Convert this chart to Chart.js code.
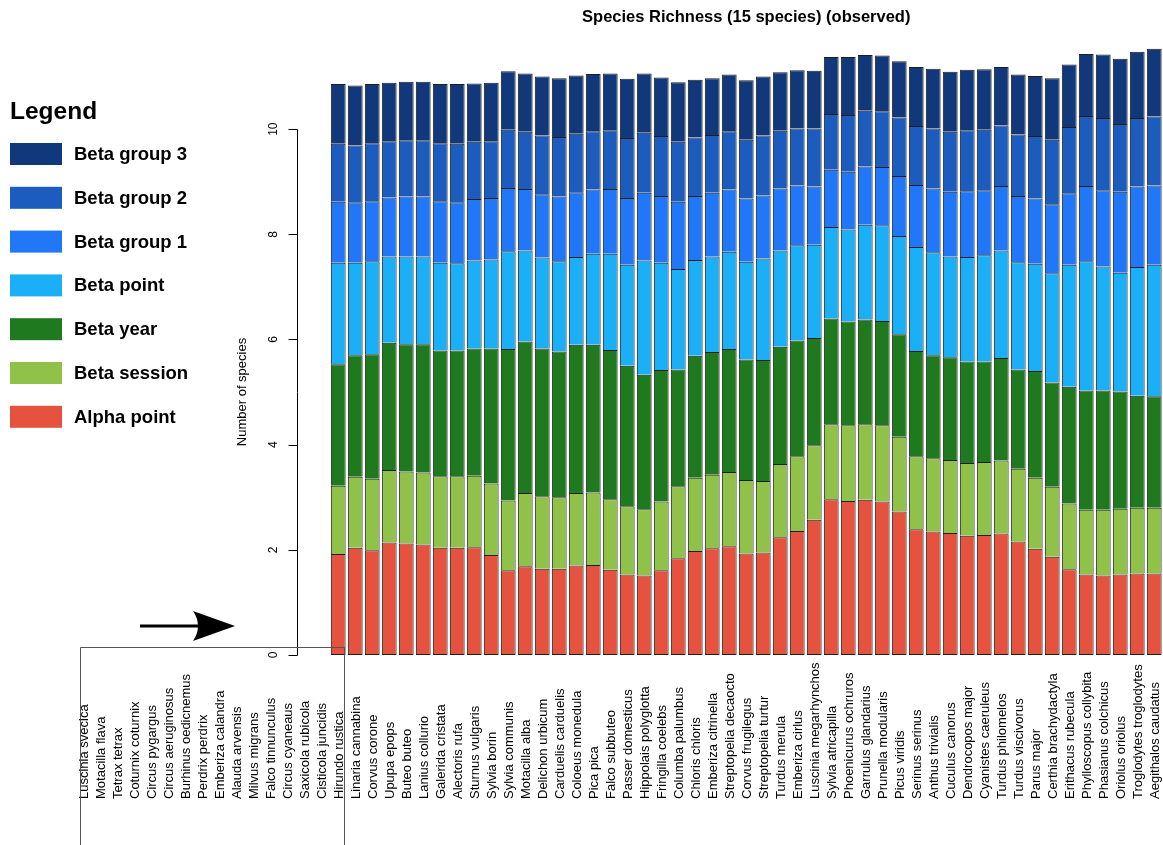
<!DOCTYPE html>
<html>
<head>
<meta charset="utf-8">
<script src="https://cdn.jsdelivr.net/npm/chart.js@4.4.1/dist/chart.umd.min.js"></script>
<style>
  html, body { margin: 0; padding: 0; background: #ffffff; }
  #wrap { width: 1163px; height: 845px; position: relative; }
</style>
</head>
<body>
<div id="wrap"><canvas id="c" width="1163" height="845"></canvas></div>
<script>
// ---------------- DATA ----------------
const chartTitle = 'Species Richness (15 species) (observed)';
const yAxisTitle = 'Number of species';
const legendTitle = 'Legend';
const yTickValues = [0, 2, 4, 6, 8, 10];

const speciesWithoutBars = [
  'Luscinia svecica', 'Motacilla flava', 'Tetrax tetrax', 'Coturnix coturnix',
  'Circus pygargus', 'Circus aeruginosus', 'Burhinus oedicnemus', 'Perdrix perdrix',
  'Emberiza calandra', 'Alauda arvensis', 'Milvus migrans', 'Falco tinnunculus',
  'Circus cyaneaus', 'Saxicola rubicola', 'Cisticola juncidis'
];

const speciesWithBars = [
  'Hirundo rustica', 'Linaria cannabina', 'Corvus corone', 'Upupa epops', 'Buteo buteo',
  'Lanius collurio', 'Galerida cristata', 'Alectoris rufa', 'Sturnus vulgaris', 'Sylvia borin',
  'Sylvia communis', 'Motacilla alba', 'Delichon urbicum', 'Carduelis carduelis', 'Coloeus monedula',
  'Pica pica', 'Falco subbuteo', 'Passer domesticus', 'Hippolais polyglotta', 'Fringilla coelebs',
  'Columba palumbus', 'Chloris chloris', 'Emberiza citrinella', 'Streptopelia decaocto', 'Corvus frugilegus',
  'Streptopelia turtur', 'Turdus merula', 'Emberiza cirlus', 'Luscinia megarhynchos', 'Sylvia atricapilla',
  'Phoenicurus ochruros', 'Garrulus glandarius', 'Prunella modularis', 'Picus viridis', 'Serinus serinus',
  'Anthus trivialis', 'Cuculus canorus', 'Dendrocopos major', 'Cyanistes caeruleus', 'Turdus philomelos',
  'Turdus viscivorus', 'Parus major', 'Certhia brachydactyla', 'Erithacus rubecula', 'Phylloscopus collybita',
  'Phasianus colchicus', 'Oriolus oriolus', 'Troglodytes troglodytes', 'Aegithalos caudatus'
];

const alphaPoint = [
  1.92, 2.04, 1.99, 2.14, 2.12, 2.10, 2.04, 2.04, 2.05, 1.90,
  1.61, 1.69, 1.64, 1.64, 1.70, 1.71, 1.62, 1.53, 1.51, 1.61,
  1.84, 1.98, 2.03, 2.07, 1.93, 1.95, 2.24, 2.36, 2.57, 2.96,
  2.93, 2.95, 2.92, 2.73, 2.39, 2.35, 2.32, 2.27, 2.28, 2.31,
  2.16, 2.02, 1.87, 1.63, 1.53, 1.51, 1.53, 1.55, 1.55
];
const betaSession = [
  1.30, 1.35, 1.36, 1.38, 1.37, 1.37, 1.36, 1.36, 1.36, 1.36,
  1.33, 1.39, 1.38, 1.36, 1.38, 1.38, 1.34, 1.30, 1.26, 1.31,
  1.37, 1.39, 1.40, 1.41, 1.40, 1.36, 1.39, 1.42, 1.42, 1.43,
  1.44, 1.44, 1.45, 1.42, 1.39, 1.39, 1.39, 1.38, 1.39, 1.39,
  1.38, 1.35, 1.33, 1.25, 1.23, 1.25, 1.25, 1.25, 1.25
];
const betaYear = [
  2.31, 2.31, 2.37, 2.42, 2.42, 2.44, 2.39, 2.39, 2.42, 2.57,
  2.88, 2.88, 2.81, 2.77, 2.82, 2.81, 2.84, 2.67, 2.56, 2.50,
  2.22, 2.32, 2.33, 2.34, 2.29, 2.30, 2.23, 2.20, 2.04, 2.01,
  1.97, 1.99, 1.98, 1.95, 2.00, 1.96, 1.95, 1.93, 1.91, 1.95,
  1.89, 2.03, 1.98, 2.22, 2.27, 2.27, 2.23, 2.13, 2.12
];
const betaPoint = [
  1.93, 1.76, 1.77, 1.64, 1.67, 1.67, 1.67, 1.66, 1.67, 1.69,
  1.86, 1.73, 1.73, 1.72, 1.67, 1.73, 1.83, 1.92, 2.17, 2.04,
  1.91, 1.82, 1.82, 1.85, 1.86, 1.93, 1.83, 1.81, 1.77, 1.74,
  1.75, 1.80, 1.82, 1.87, 1.98, 1.96, 1.92, 1.99, 2.02, 2.04,
  2.04, 2.04, 2.08, 2.32, 2.46, 2.36, 2.26, 2.45, 2.50
];
const betaGroup1 = [
  1.16, 1.15, 1.14, 1.12, 1.14, 1.14, 1.17, 1.16, 1.17, 1.17,
  1.20, 1.17, 1.20, 1.23, 1.23, 1.22, 1.23, 1.27, 1.29, 1.27,
  1.28, 1.22, 1.21, 1.18, 1.20, 1.20, 1.18, 1.14, 1.11, 1.09,
  1.10, 1.11, 1.11, 1.14, 1.18, 1.21, 1.23, 1.25, 1.24, 1.23,
  1.26, 1.24, 1.31, 1.36, 1.43, 1.45, 1.54, 1.53, 1.51
];
const betaGroup2 = [
  1.10, 1.08, 1.10, 1.07, 1.07, 1.07, 1.10, 1.11, 1.09, 1.08,
  1.11, 1.09, 1.12, 1.13, 1.11, 1.11, 1.12, 1.14, 1.14, 1.14,
  1.14, 1.11, 1.10, 1.11, 1.12, 1.14, 1.10, 1.08, 1.10, 1.06,
  1.08, 1.06, 1.06, 1.11, 1.12, 1.14, 1.14, 1.16, 1.15, 1.15,
  1.17, 1.19, 1.23, 1.26, 1.33, 1.37, 1.29, 1.30, 1.31
];
const betaGroup3 = [
  1.14, 1.14, 1.13, 1.11, 1.11, 1.11, 1.13, 1.14, 1.11, 1.11,
  1.11, 1.11, 1.12, 1.12, 1.11, 1.09, 1.08, 1.13, 1.13, 1.11,
  1.13, 1.10, 1.08, 1.08, 1.13, 1.12, 1.11, 1.11, 1.10, 1.08,
  1.10, 1.06, 1.06, 1.07, 1.12, 1.14, 1.14, 1.15, 1.15, 1.11,
  1.14, 1.14, 1.17, 1.19, 1.18, 1.21, 1.24, 1.26, 1.29
];

const seriesNames = ['Alpha point', 'Beta session', 'Beta year', 'Beta point',
                     'Beta group 1', 'Beta group 2', 'Beta group 3'];
const seriesValues = [alphaPoint, betaSession, betaYear, betaPoint,
                      betaGroup1, betaGroup2, betaGroup3];

// ---------------- STYLE ----------------
const seriesColors = ['#e5533f', '#90c24a', '#1f7a1f', '#1aaff6',
                      '#2078f8', '#1c5cbf', '#11387a'];
const FONT = '"Liberation Sans", Arial, Helvetica, sans-serif';

// ---------------- BUILD ----------------
const allCategories = speciesWithoutBars.concat(speciesWithBars);
const emptyLead = speciesWithoutBars.map(() => null);

const datasets = seriesNames.map((name, i) => ({
  label: name,
  data: emptyLead.concat(seriesValues[i]),
  backgroundColor: seriesColors[i],
  borderColor: '#1e1e1e',
  borderWidth: 1,
  borderSkipped: i === 0 ? false : 'start',
  barPercentage: 0.87,
  categoryPercentage: 1.0
}));

const decor = {
  id: 'decor',
  afterDraw(chart) {
    const ctx = chart.ctx;
    const xs = chart.scales.x;
    const ys = chart.scales.y;
    ctx.save();
    ctx.fillStyle = '#000';

    // Title, centred over the bars
    const first = xs.getPixelForValue(speciesWithoutBars.length);
    const last = xs.getPixelForValue(allCategories.length - 1);
    ctx.font = 'bold 16.5px ' + FONT;
    ctx.textAlign = 'center';
    ctx.textBaseline = 'alphabetic';
    ctx.fillText(chartTitle, (first + last) / 2, 22);

    // Y axis (R style): line from first to last tick, outward ticks, rotated labels
    const axX = 297.5;
    ctx.strokeStyle = '#000';
    ctx.lineWidth = 1;
    ctx.beginPath();
    ctx.moveTo(axX, Math.round(ys.getPixelForValue(yTickValues[0])) + 0.5);
    ctx.lineTo(axX, Math.round(ys.getPixelForValue(yTickValues[yTickValues.length - 1])) + 0.5);
    yTickValues.forEach(t => {
      const py = Math.round(ys.getPixelForValue(t)) + 0.5;
      ctx.moveTo(axX - 9, py);
      ctx.lineTo(axX, py);
    });
    ctx.stroke();
    ctx.font = '12px ' + FONT;
    yTickValues.forEach(t => {
      ctx.save();
      ctx.translate(277, ys.getPixelForValue(t));
      ctx.rotate(-Math.PI / 2);
      ctx.textAlign = 'center';
      ctx.textBaseline = 'alphabetic';
      ctx.fillText(String(t), 0, 0);
      ctx.restore();
    });
    // Y title
    ctx.font = '13px ' + FONT;
    ctx.save();
    ctx.translate(246, 392);
    ctx.rotate(-Math.PI / 2);
    ctx.textAlign = 'center';
    ctx.textBaseline = 'alphabetic';
    ctx.fillText(yAxisTitle, 0, 0);
    ctx.restore();

    // Category labels, rotated, starting at a common bottom line
    ctx.font = '13px ' + FONT;
    allCategories.forEach((lab, i) => {
      ctx.save();
      ctx.translate(xs.getPixelForValue(i) + 1.5, 799);
      ctx.rotate(-Math.PI / 2);
      ctx.textAlign = 'left';
      ctx.textBaseline = 'middle';
      ctx.fillText(lab, 0, 0);
      ctx.restore();
    });

    // Box around the species without bars
    ctx.strokeStyle = '#555';
    ctx.lineWidth = 1;
    ctx.beginPath();
    ctx.moveTo(80.5, 845);
    ctx.lineTo(80.5, 647.5);
    ctx.lineTo(344.5, 647.5);
    ctx.lineTo(344.5, 845);
    ctx.stroke();

    // Arrow
    ctx.strokeStyle = '#000';
    ctx.lineWidth = 3;
    ctx.beginPath();
    ctx.moveTo(140, 626);
    ctx.lineTo(202, 626);
    ctx.stroke();
    ctx.beginPath();
    ctx.moveTo(235, 626);
    ctx.lineTo(193, 611);
    ctx.quadraticCurveTo(203, 626, 193, 641);
    ctx.closePath();
    ctx.fill();

    // Legend
    ctx.fillStyle = '#000';
    ctx.font = 'bold 24.5px ' + FONT;
    ctx.textAlign = 'left';
    ctx.textBaseline = 'alphabetic';
    ctx.fillText(legendTitle, 10, 119);
    ctx.font = 'bold 18.5px ' + FONT;
    const order = seriesNames.map((n, i) => i).reverse();
    order.forEach((si, k) => {
      const top = 143 + k * 43.8;
      ctx.fillStyle = seriesColors[si];
      ctx.fillRect(10, top, 52, 22);
      ctx.fillStyle = '#000';
      ctx.textBaseline = 'middle';
      ctx.fillText(seriesNames[si], 74, top + 12);
    });
    ctx.restore();
  }
};

new Chart(document.getElementById('c'), {
  type: 'bar',
  data: { labels: allCategories, datasets: datasets },
  options: {
    responsive: false,
    animation: false,
    devicePixelRatio: 1,
    layout: { padding: { left: 74.75, right: 0.25, top: 45, bottom: 190 } },
    plugins: { legend: { display: false }, title: { display: false }, tooltip: { enabled: false } },
    scales: {
      x: { type: 'category', stacked: true, display: false, offset: true, grid: { display: false } },
      y: { type: 'linear', stacked: true, display: false, min: 0, max: 11.6 }
    }
  },
  plugins: [decor]
});
</script>
</body>
</html>
